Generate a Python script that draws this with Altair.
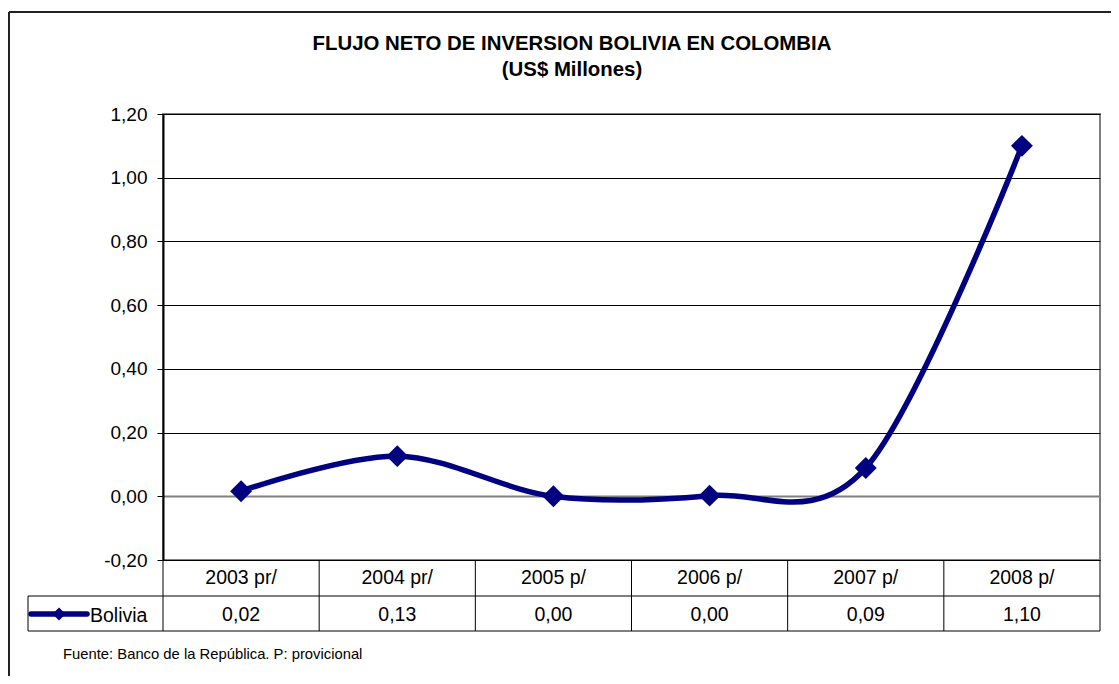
import altair as alt
import pandas as pd

# ---- data ----
years = ["2003 pr/", "2004 pr/", "2005 p/", "2006 p/", "2007 p/", "2008 p/"]
values = [0.016, 0.126, 0.0, 0.002, 0.089, 1.10]
y_ticks = [-0.2, 0.0, 0.2, 0.4, 0.6, 0.8, 1.0, 1.2]
series_name = "Bolivia"
title_lines = ["FLUJO NETO DE INVERSION BOLIVIA EN COLOMBIA", "(US$ Millones)"]
footnote = "Fuente: Banco de la República. P: provicional"

NAVY = "#000080"
FONT = "Liberation Sans"
W, H = 937, 446
FMT = "replace(replace(format(datum.value, '.2f'), '.', ','), '\u2212', '-')"

df = pd.DataFrame({"year": years, "value": values})
one = pd.DataFrame({"k": [0]})
base = alt.Chart(df)
deco = alt.Chart(one)


def xenc(bp):
    return alt.X(
        "year:N",
        sort=years,
        scale=alt.Scale(type="band", paddingInner=0, paddingOuter=0),
        axis=None,
        bandPosition=bp,
    )


yenc = alt.Y(
    "value:Q",
    scale=alt.Scale(domain=[-0.2, 1.2], nice=False, zero=False),
    axis=alt.Axis(
        values=y_ticks,
        title=None,
        labelExpr=FMT,
        labelFont=FONT,
        labelFontSize=19,
        labelColor="black",
        labelPadding=10,
        tickSize=6,
        tickColor="black",
        domainColor="black",
        domainWidth=2,
        grid=True,
        gridColor={"condition": {"test": "datum.value === 0", "value": "#808080"}, "value": "#000000"},
        gridWidth={"condition": {"test": "datum.value === 0", "value": 2}, "value": 1},
        gridOpacity=1,
    ),
)

line = base.mark_line(interpolate="cardinal", color=NAVY, strokeWidth=5.5).encode(x=xenc(0.5), y=yenc)
pts = base.mark_point(shape="diamond", filled=True, size=480, color=NAVY, opacity=1).encode(
    x=xenc(0.5), y=yenc
)

# data table
cat_text = base.mark_text(font=FONT, fontSize=19.5, baseline="middle", color="black").encode(
    x=xenc(0.5), y=alt.value(H + 18), text="year:N"
)
val_text = (
    base.transform_calculate(lab=FMT)
    .mark_text(font=FONT, fontSize=19.5, baseline="middle", color="black")
    .encode(x=xenc(0.5), y=alt.value(H + 55), text="lab:N")
)
vlines = base.mark_rule(color="black", strokeWidth=1).encode(
    x=xenc(0), y=alt.value(H), y2=alt.value(H + 71)
)
vright = deco.mark_rule(color="black", strokeWidth=1).encode(
    x=alt.value(W), y=alt.value(H), y2=alt.value(H + 71)
)
hline1 = deco.mark_rule(color="black", strokeWidth=1).encode(
    x=alt.value(-135), x2=alt.value(W), y=alt.value(H + 36)
)
hline2 = deco.mark_rule(color="black", strokeWidth=1).encode(
    x=alt.value(-135), x2=alt.value(W), y=alt.value(H + 71)
)
vleg = deco.mark_rule(color="black", strokeWidth=1).encode(
    x=alt.value(-135), y=alt.value(H + 36), y2=alt.value(H + 71)
)

# legend key
leg_line = deco.mark_rule(color=NAVY, strokeWidth=5.5, strokeCap="round").encode(
    x=alt.value(-132), x2=alt.value(-76), y=alt.value(H + 54)
)
leg_pt = deco.mark_point(shape="diamond", filled=True, size=170, color=NAVY, opacity=1).encode(
    x=alt.value(-104), y=alt.value(H + 54)
)
leg_text = deco.mark_text(font=FONT, fontSize=19.5, align="left", baseline="middle", color="black").encode(
    x=alt.value(-73), y=alt.value(H + 56), text=alt.value(series_name)
)

# titles and footnote
t1 = deco.mark_text(font=FONT, fontSize=20.4, fontWeight="bold", baseline="middle", color="black").encode(
    x=alt.value(409), y=alt.value(-70), text=alt.value(title_lines[0])
)
t2 = deco.mark_text(font=FONT, fontSize=20.4, fontWeight="bold", baseline="middle", color="black").encode(
    x=alt.value(409), y=alt.value(-44), text=alt.value(title_lines[1])
)
foot = deco.mark_text(font=FONT, fontSize=14.8, align="left", baseline="middle", color="black").encode(
    x=alt.value(-100), y=alt.value(H + 95), text=alt.value(footnote)
)

# outer frame
frame_left = deco.mark_rule(color="#222222", strokeWidth=2).encode(
    x=alt.value(-154), y=alt.value(-102), y2=alt.value(H + 200)
)
frame_top = deco.mark_rule(color="#222222", strokeWidth=2).encode(
    x=alt.value(-154), x2=alt.value(W + 100), y=alt.value(-102)
)

chart = (
    alt.layer(
        line, pts, cat_text, val_text, vlines, vright, hline1, hline2, vleg,
        leg_line, leg_pt, leg_text, t1, t2, foot, frame_left, frame_top,
    )
    .properties(
        width=W,
        height=H,
        autosize=alt.AutoSizeParams(type="none"),
        padding={"left": 155, "top": 106, "right": 11, "bottom": 116},
        background="white",
    )
    .configure_view(stroke="#808080", strokeWidth=2)
)

chart.save("out.html", embed_options={"renderer": "svg", "actions": False})
